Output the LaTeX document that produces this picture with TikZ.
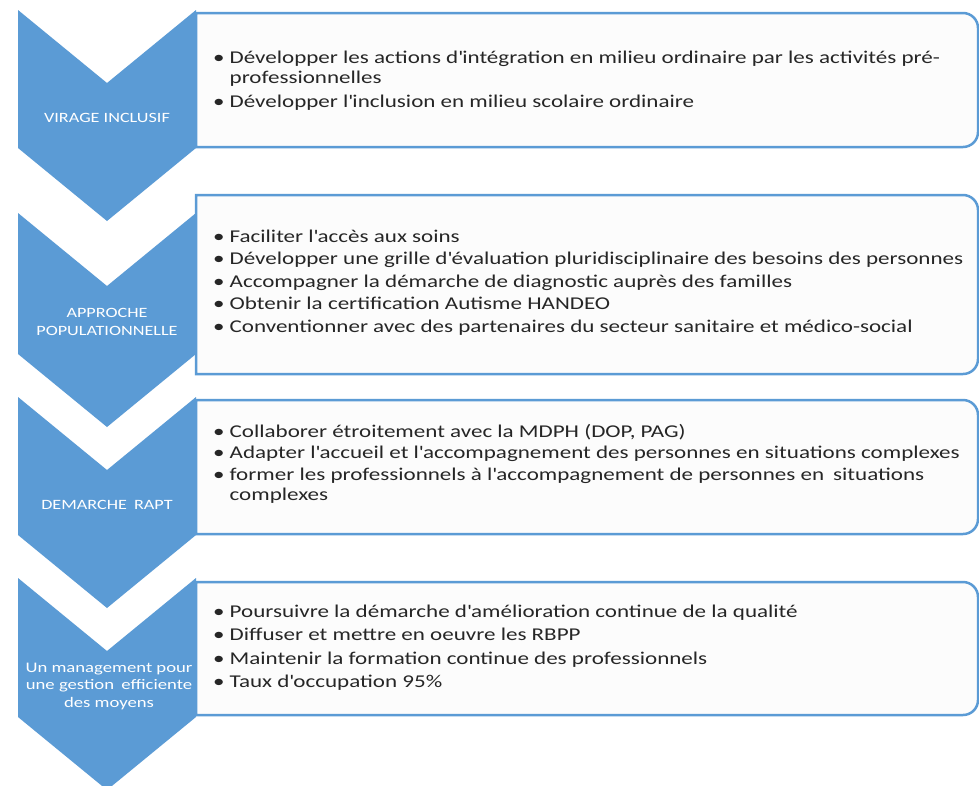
\documentclass[tikz,border=0pt]{standalone}
\usepackage{fontspec}
\setmainfont{Carlito}[FakeStretch=1.28]
\definecolor{chevblue}{HTML}{5B9BD5}
\definecolor{boxfill}{HTML}{FCFCFC}
\definecolor{txtgray}{HTML}{262626}
\newcommand\ap{\textquotesingle}
\newcommand\chevronshape[2]{%
  \fill[chev] (18,#1) -- (107,{#1+73}) -- (196,#1) -- (196,#2) -- (107,{#2+73}) -- (18,#2) -- cycle;}
\newcommand\infobox[2]{%
  \path[boxline] (196,#1) -- (963,#1) .. controls (971.3,#1) and (978,{#1+6.7}) .. (978,{#1+15})
    -- (978,{#2-15}) .. controls (978,{#2-6.7}) and (971.3,#2) .. (963,#2) -- (196,#2) -- cycle;}
\begin{document}
\begin{tikzpicture}[x=1pt,y=-1pt,
  chev/.style={fill=chevblue},
  boxline/.style={draw=chevblue, line width=2.5pt, fill=boxfill},
  chevlabel/.style={text=white, font=\fontsize{14.2}{17.5}\selectfont, align=center, inner sep=0pt},
  itemtext/.style={anchor=base west, text=txtgray, font=\fontsize{18}{20.5}\selectfont, inner sep=0pt}]
\useasboundingbox[fill=white] (0,0) rectangle (979,785);
\chevronshape{10}{148}
\chevronshape{213}{354}
\chevronshape{397}{535}
\chevronshape{578}{717}
\infobox{13}{147}
\infobox{195}{374}
\infobox{400}{534}
\infobox{582}{715}
\node[chevlabel] (c1) at (107,118) {VIRAGE INCLUSIF};
\node[chevlabel] (c2) at (107,322) {APPROCHE\\POPULATIONNELLE};
\node[chevlabel] (c3) at (107,505) {DEMARCHE\enspace RAPT};
\node[chevlabel, font=\fontsize{14.6}{17.5}\selectfont] (c4) at (109,686) {Un management pour\\une gestion\enspace efficiente\\des moyens};
\node[itemtext] (t1) at (213,63) {\begin{tabular}[t]{@{}l@{\hspace{5pt}}l@{}}
\textbullet & Développer les actions d\ap intégration en milieu ordinaire par les activités pré-\\
 & professionnelles\\[3pt]
\textbullet & Développer l\ap inclusion en milieu scolaire ordinaire
\end{tabular}};
\node[itemtext] (t2) at (213,242) {\begin{tabular}[t]{@{}l@{\hspace{5pt}}l@{}}
\textbullet & Faciliter l\ap accès aux soins\\[2pt]
\textbullet & Développer une grille d\ap évaluation pluridisciplinaire des besoins des personnes\\[2pt]
\textbullet & Accompagner la démarche de diagnostic auprès des familles\\[2pt]
\textbullet & Obtenir la certification Autisme HANDEO\\[2pt]
\textbullet & Conventionner avec des partenaires du secteur sanitaire et médico-social
\end{tabular}};
\node[itemtext] (t3) at (213,437) {\begin{tabular}[t]{@{}l@{\hspace{5pt}}l@{}}
\textbullet & Collaborer étroitement avec la MDPH (DOP, PAG)\\[1pt]
\textbullet & Adapter l\ap accueil et l\ap accompagnement des personnes en situations complexes\\[1pt]
\textbullet & former les professionnels à l\ap accompagnement de personnes en\enspace situations\\
 & complexes
\end{tabular}};
\node[itemtext] (t4) at (213,617) {\begin{tabular}[t]{@{}l@{\hspace{5pt}}l@{}}
\textbullet & Poursuivre la démarche d\ap amélioration continue de la qualité\\[3pt]
\textbullet & Diffuser et mettre en oeuvre les RBPP\\[3pt]
\textbullet & Maintenir la formation continue des professionnels\\[3pt]
\textbullet & Taux d\ap occupation 95\%
\end{tabular}};
\end{tikzpicture}
\end{document}
